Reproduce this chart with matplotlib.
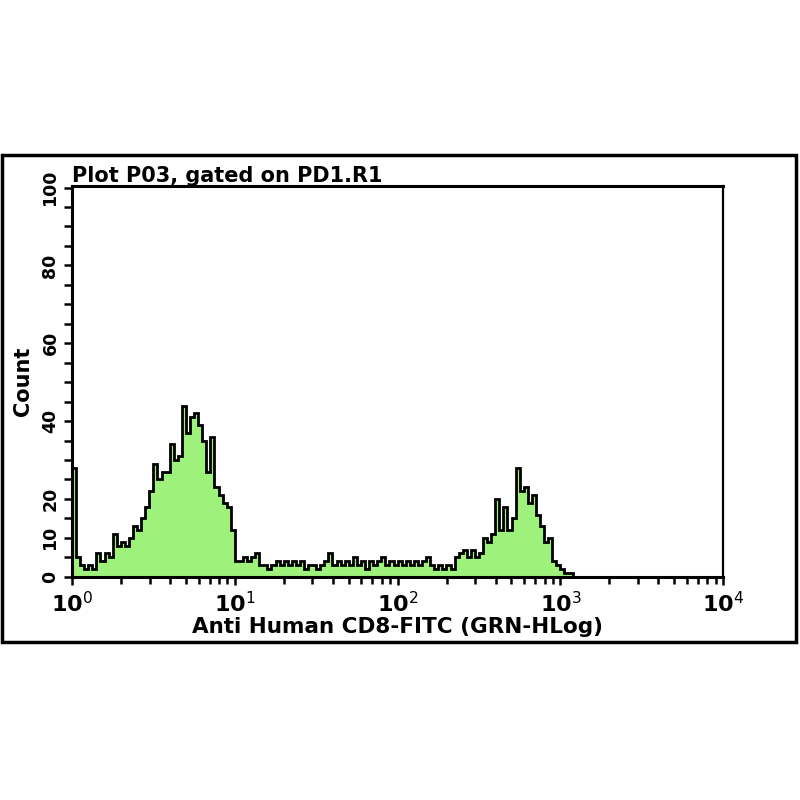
import numpy as np
import matplotlib
matplotlib.use("Agg")
import matplotlib.pyplot as plt
from matplotlib.patches import Rectangle

# histogram: 40 log-spaced channels per decade, 10^0 .. 10^4
bins_per_decade = 40
counts = [
    28, 5, 3, 2, 3, 2, 6, 4, 6, 5,
    11, 8, 9, 8, 10, 13, 12, 15, 18, 22,
    29, 25, 27, 27, 34, 30, 31, 44, 37, 41,
    42, 39, 35, 27, 36, 23, 21, 19, 18, 12,
    4, 4, 5, 4, 5, 6, 3, 3, 2, 3,
    4, 3, 4, 3, 4, 3, 4, 2, 3, 3,
    2, 3, 4, 6, 3, 4, 3, 4, 3, 5,
    3, 4, 2, 4, 3, 4, 5, 3, 4, 3,
    4, 3, 4, 3, 4, 3, 4, 5, 3, 2,
    3, 2, 3, 2, 5, 6, 7, 5, 7, 5,
    6, 10, 9, 11, 20, 12, 18, 12, 15, 28,
    22, 23, 19, 21, 16, 13, 9, 10, 4, 3,
    2, 1, 1, 0, 0, 0, 0, 0, 0, 0,
    0, 0, 0, 0, 0, 0, 0, 0, 0, 0,
    0, 0, 0, 0, 0, 0, 0, 0, 0, 0,
    0, 0, 0, 0, 0, 0, 0, 0, 0, 0,
]
ytick_major = [0, 10, 20, 40, 60, 80, 100]
xdecades = [0, 1, 2, 3, 4]

title = "Plot P03, gated on PD1.R1"
xlabel = "Anti Human CD8-FITC (GRN-HLog)"
ylabel = "Count"

green = "#9ef27c"

edges = 10 ** (np.arange(len(counts) + 1) / bins_per_decade)

fig = plt.figure(figsize=(8, 8), dpi=100)
ax = fig.add_axes([0.09, 0.279, 0.814, 0.489])

ax.stairs(counts, edges, fill=True, color=green, zorder=1)
ax.stairs(counts, edges, color="black", linewidth=2.0, zorder=2)

ax.set_xscale("log")
ax.set_xlim(1, 1e4)
ax.set_ylim(0, 100.5)

ax.set_xticks([10 ** d for d in xdecades])
ax.set_xticklabels([rf"$\mathbf{{10}}^{{{d}}}$" for d in xdecades], fontsize=16)
minors = [m * 10 ** d for d in xdecades[:-1] for m in range(2, 10)]
ax.set_xticks(minors, minor=True)
ax.set_xticklabels([], minor=True)

ax.set_yticks(ytick_major)
ax.set_yticklabels([str(v) for v in ytick_major], rotation=90, va="center",
                   fontsize=12.5, fontweight="bold")
ax.set_yticks(np.arange(0, 101, 5), minor=True)

ax.tick_params(axis="both", which="both", direction="out", width=1.8, color="black")
ax.tick_params(axis="x", which="major", length=6, pad=4)
ax.tick_params(axis="x", which="minor", length=5)
ax.tick_params(axis="y", which="both", length=6, pad=3)

for side in ["left", "bottom", "top"]:
    ax.spines[side].set_linewidth(2.2)
ax.spines["right"].set_linewidth(1.6)

ax.set_xlabel(xlabel, fontsize=15.5, fontweight="bold", labelpad=1)
ax.set_ylabel(ylabel, fontsize=15, fontweight="bold", labelpad=6)
ax.set_title(title, loc="left", fontsize=15, fontweight="bold", pad=2)

# outer frame
fig.patches.append(Rectangle((0.002, 0.197), 0.993, 0.609, transform=fig.transFigure,
                             fill=False, edgecolor="black", linewidth=2.5))

fig.savefig("out.png", dpi=100)
